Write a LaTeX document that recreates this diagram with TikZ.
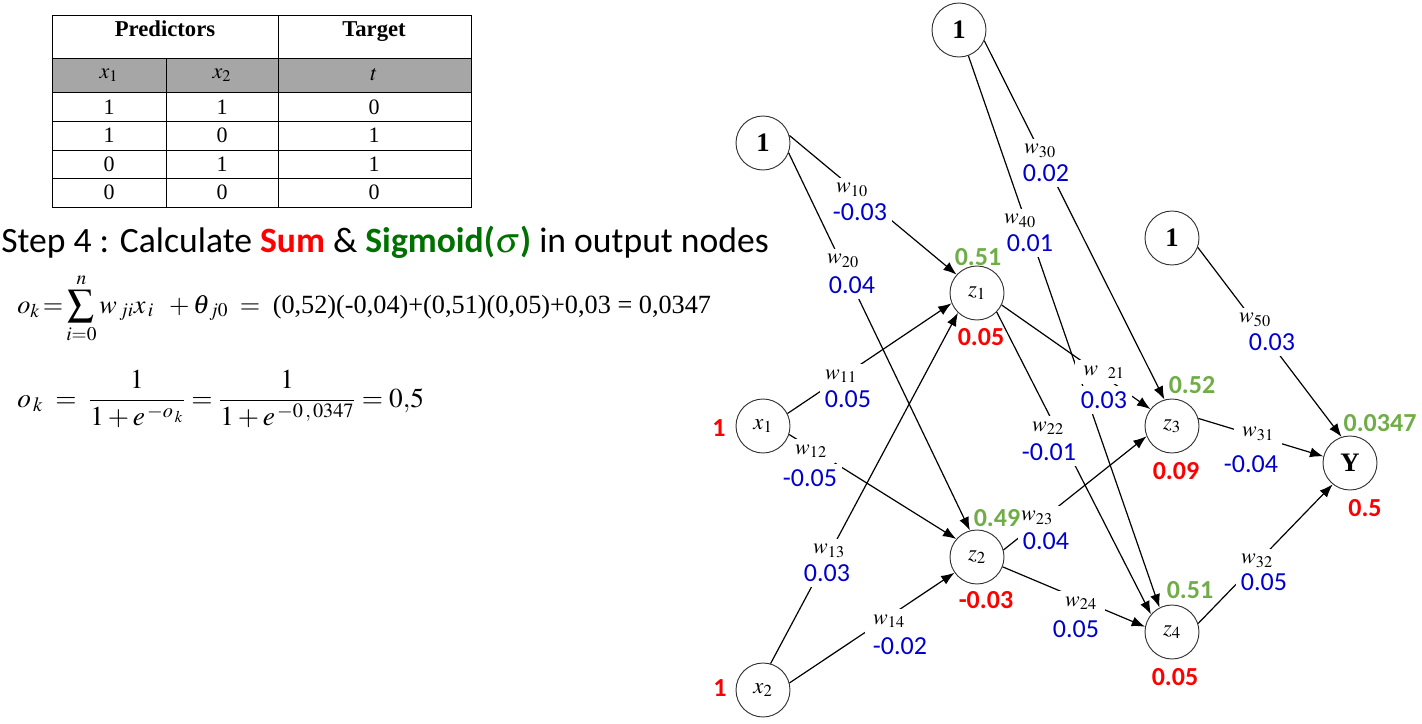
\documentclass[tikz,border=0pt]{standalone}
\usepackage{mathptmx}
\usepackage{fontspec}
\setmainfont{Liberation Serif}
\newfontfamily\calfont{Carlito}
\usetikzlibrary{arrows.meta}
\definecolor{sumred}{RGB}{255,0,0}
\definecolor{siggreen}{RGB}{112,173,71}
\definecolor{stepgreen}{RGB}{0,112,0}
\definecolor{wblue}{RGB}{0,0,204}
\definecolor{tabgray}{RGB}{166,166,166}
\begin{document}
\begin{tikzpicture}[x=0.75pt,y=-0.75pt,
		every node/.append style={inner sep=0pt},
		neuron/.style={draw=black!80, circle, line width=0.7pt, minimum size=40.5pt, font=\fontsize{17}{18}\selectfont},
		bias/.style={neuron, font=\fontsize{20}{22}\selectfont\bfseries},
		link/.style={line width=0.9pt, -{Latex[length=10pt,width=7.5pt]}},
		wlab/.style={fill=white, inner xsep=6pt, inner ysep=4pt, font=\fontsize{16.5}{18}\selectfont},
		wval/.style={fill=white, inner sep=4pt, text=wblue, font=\calfont\fontsize{19.5}{21}\selectfont},
		sumlab/.style={text=sumred, font=\calfont\bfseries\fontsize{19.5}{21}\selectfont},
		siglab/.style={text=siggreen, font=\calfont\bfseries\fontsize{19.5}{21}\selectfont},
		cell/.style={font=\fontsize{16.5}{18}\selectfont},
		head/.style={anchor=base, font=\fontsize{17}{19}\selectfont\bfseries}]
	\useasboundingbox (0,0) rectangle (1422,724);
	% table of the data
	\fill [tabgray] (52,58) rectangle (471,92);
	\draw [line width=0.7pt] (52,15) rectangle (471,207);
	\foreach \y in {58,92,121,150,178}
		\draw [line width=0.7pt] (52,\y) -- (471,\y);
	\draw [line width=0.7pt] (278,15) -- (278,207);
	\draw [line width=0.7pt] (166,58) -- (166,207);
	\node [head] (pred) at (165,37) {Predictors};
	\node [head] (targ) at (374,37) {Target};
	\node [cell] (hx1) at (109,75) {$x_1$};
	\node [cell] (hx2) at (222,75) {$x_2$};
	\node [cell] (ht) at (374,75) {$t$};
	\foreach \a/\b/\t/\y [count=\i] in {1/1/0/107, 1/0/1/135.5, 0/1/1/164, 0/0/0/192.5} {
		\node [cell] (ra\i) at (109,\y) {\a};
		\node [cell] (rb\i) at (222,\y) {\b};
		\node [cell] (rt\i) at (374,\y) {\t};
	}
	% step and formulas
	\node [anchor=base west, font=\calfont\fontsize{26.7}{30}\selectfont] (step) at (1,252)
		{Step 4 : Calculate \textcolor{sumred}{\bfseries Sum} \& \textcolor{stepgreen}{\bfseries Sigmoid($\sigma$)} in output nodes};
	\node [anchor=base west, font=\fontsize{19.7}{22}\selectfont] (eqsum) at (17,313)
		{$o_k\!=\!\displaystyle\sum_{i=0}^{n} w_{\,ji}x_{\,i}\;\;+\theta_{\,j0}\;=\;$ (0,52)(-0,04)+(0,51)(0,05)+0,03 = 0,0347};
	\node [anchor=base west, font=\fontsize{20.5}{22}\selectfont] (eqsig) at (17,407)
		{$o_{\,k} \;=\; \displaystyle\frac{1}{1+e^{\,-o_{\,k}}} = \frac{1}{1+e^{\,-0\,,\,0347}} = 0{,}5$};
	% network
	\node [bias] (b1) at (763,143) {1};
	\node [bias] (b2) at (959,30) {1};
	\node [bias] (b3) at (1172,238) {1};
	\node [neuron] (x1) at (763,426) {$x_1$};
	\node [neuron] (x2) at (763,690) {$x_2$};
	\node [neuron] (z1) at (977,293) {$z_1$};
	\node [neuron] (z2) at (977,557) {$z_2$};
	\node [neuron] (z3) at (1172,426) {$z_3$};
	\node [neuron] (z4) at (1172,632) {$z_4$};
	\node [bias] (y) at (1350,463) {Y};
	\foreach \a/\b in {b1.16/z1.138, b1.339/z2.105, x1.27/z1.202, x1.342/z2.139,
		x2.74/z1.226, x2.15/z2.215, b2.337/z3.106, b2.290/z4.117,
		z1.334/z3.142, z1.316/z4.140, z2.15/z3.202, z2.339/z4.169,
		b3.340/y.108, z3.16/y.166, z4.18/y.231}
		\draw [link] (\a) -- (\b);
	% weights
	\foreach \n/\s/\wx/\wy/\vx/\vy/\v in {10/{_{10}}/852/190/860/212/-0.03, 20/{_{20}}/843/261/852/285/0.04,
		11/{_{11}}/841/376/848/399/0.05, 12/{_{12}}/811/451/810/478/-0.05,
		13/{_{13}}/829/551/827/573/0.03, 14/{_{14}}/889/621/900/646/-0.02,
		30/{_{30}}/1040/151/1046/173/0.02, 40/{_{40}}/1020/221/1030/243/0.01,
		21/{\;\;{}_{21}}/1104/372/1104/400/0.03, 22/{_{22}}/1048/428/1049/452/-0.01,
		23/{_{23}}/1037/518/1046/541/0.04, 24/{_{24}}/1081/603/1076/629/0.05,
		50/{_{50}}/1255/320/1272/342/0.03, 31/{_{31}}/1258/434/1251/464/-0.04,
		32/{_{32}}/1257/561/1264/582/0.05} {
		\node [wlab] (w\n) at (\wx,\wy) {$w\s$};
		\node [wval] (v\n) at (\vx,\vy) {\v};
	}
	% sums and sigmoids
	\node [sumlab] (in1) at (719,428) {1};
	\node [sumlab] (in2) at (720,688) {1};
	\node [siglab] (o1) at (978,257) {0.51};
	\node [sumlab] (s1) at (981,337) {0.05};
	\node [siglab] (o2) at (997,518) {0.49};
	\node [sumlab] (s2) at (986,600) {-0.03};
	\node [siglab] (o3) at (1192,385) {0.52};
	\node [sumlab] (s3) at (1176,471) {0.09};
	\node [siglab] (o4) at (1190,590) {0.51};
	\node [sumlab] (s4) at (1175,677) {0.05};
	\node [siglab] (oy) at (1380,423) {0.0347};
	\node [sumlab] (sy) at (1365,508) {0.5};
\end{tikzpicture}
\end{document}
